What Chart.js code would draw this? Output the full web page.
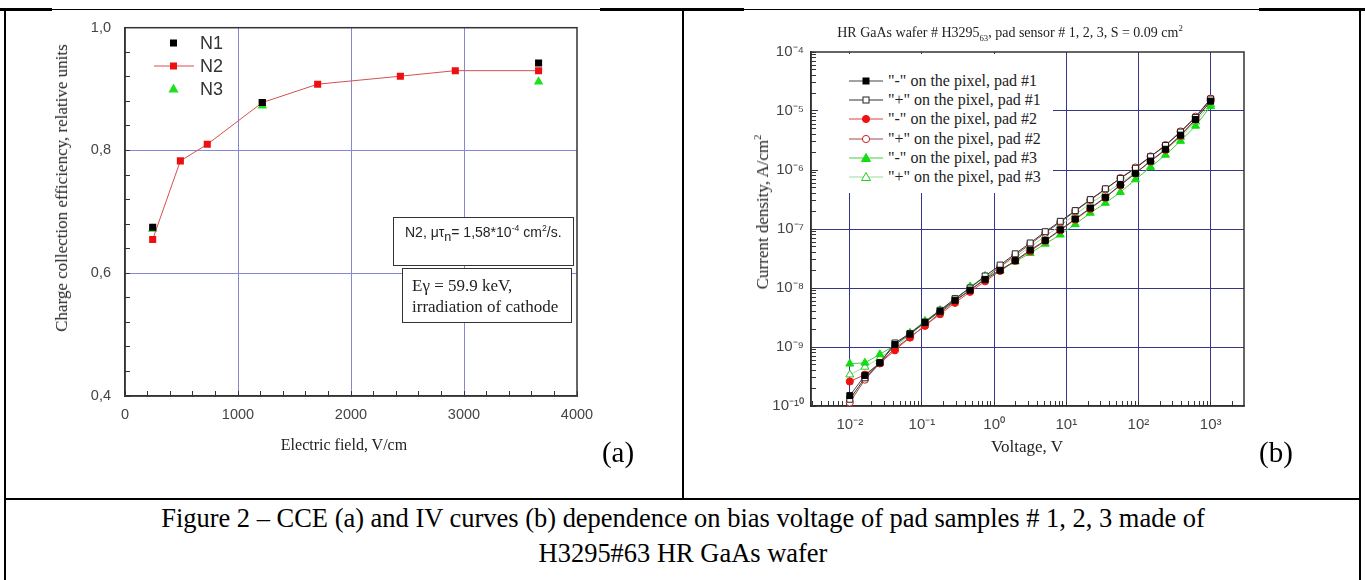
<!DOCTYPE html>
<html>
<head>
<meta charset="utf-8">
<script src="https://cdn.jsdelivr.net/npm/chart.js@4.4.1/dist/chart.umd.min.js"></script>
<style>
  body { margin: 0; background: #fff; }
  #page { position: relative; width: 1365px; height: 580px; overflow: hidden; background: #fff; }
  canvas { position: absolute; top: 0; }
  .ln { position: absolute; background: #000; }
  .txt { position: absolute; white-space: nowrap; color: #222; }
  .serif { font-family: "Liberation Serif", "Times New Roman", serif; }
  .sans { font-family: "Liberation Sans", Arial, sans-serif; }
  .center { transform: translate(-50%, -50%); }
  .caption { transform: translate(-50%, -50%) scaleX(0.98); }
  .vert { transform: translate(-50%, -50%) rotate(-90deg); }
  .box { position: absolute; background: #fff; border: 1.5px solid #333; box-sizing: border-box; }
  .leg { position: absolute; background: #fff; }
  .legrow { position: absolute; left: 0; height: 18px; }
  .legrow svg { position: absolute; left: 0; top: 0; }
  .legrow span { position: absolute; top: 50%; transform: translateY(-50%); white-space: nowrap; color: #222; }
  sup, sub { font-size: 62%; line-height: 0; }
</style>
</head>
<body>
<div id="page">
  <canvas id="cceChart" width="680" height="470" style="left:0"></canvas>
  <canvas id="ivChart" width="674" height="470" style="left:686px"></canvas>

  <!-- table lines -->
  <div class="ln" style="left:5px; top:9px; width:1355px; height:1px"></div>
  <div class="ln" style="left:0; top:8px; width:52px; height:3px"></div>
  <div class="ln" style="left:600px; top:8px; width:144px; height:3px"></div>
  <div class="ln" style="left:1259px; top:8px; width:106px; height:3px"></div>
  <div class="ln" style="left:4px; top:9px; width:2px; height:571px"></div>
  <div class="ln" style="left:1359px; top:9px; width:2px; height:571px"></div>
  <div class="ln" style="left:682px; top:9px; width:2px; height:490px"></div>
  <div class="ln" style="left:4px; top:498px; width:1357px; height:2px"></div>

  <!-- chart (a) texts -->
  <div class="txt serif vert" style="left:62px; top:188px; font-size:17px">Charge collection efficiency, relative units</div>
  <div class="txt serif center" style="left:344px; top:445px; font-size:16px">Electric field, V/cm</div>
  <div class="txt serif center" style="left:618px; top:452px; font-size:29px; color:#000">(a)</div>

  <div class="leg" id="legA" style="left:140px; top:32px; width:90px; height:68px; background:transparent"></div>

  <div class="box" style="left:393px; top:217px; width:181px; height:49px"></div>
  <div class="txt sans" style="left:405px; top:224px; font-size:14px">N2, &mu;&tau;<sub style="font-size:90%">n</sub>= 1,58*10<sup>-4</sup> cm<sup>2</sup>/s.</div>
  <div class="box" style="left:402px; top:268px; width:170px; height:55px"></div>
  <div class="txt serif" style="left:412px; top:275px; font-size:17px; line-height:21px">E&gamma; = 59.9 keV,<br>irradiation of cathode</div>

  <!-- chart (b) texts -->
  <div class="txt serif center" style="left:1010px; top:33px; font-size:14px">HR GaAs wafer # H3295<sub>63</sub>, pad sensor # 1, 2, 3, S = 0.09 cm<sup>2</sup></div>
  <div class="txt serif vert" style="left:763px; top:212px; font-size:17px">Current density, A/cm<sup>2</sup></div>
  <div class="txt serif center" style="left:1027px; top:447px; font-size:17px">Voltage, V</div>
  <div class="txt serif center" style="left:1276px; top:452px; font-size:29px; color:#000">(b)</div>

  <div class="leg" id="legB" style="left:818px; top:54px; width:235px; height:139px"></div>

  <!-- caption -->
  <div class="txt serif caption" style="left:683px; top:518px; font-size:27px; color:#000">Figure 2 &ndash; CCE (a) and IV curves (b) dependence on bias voltage of pad samples # 1, 2, 3 made of</div>
  <div class="txt serif caption" style="left:683px; top:553px; font-size:27px; color:#000">H3295#63 HR GaAs wafer</div>
</div>

<script>
// ---- chart (a): CCE vs electric field ----
const n1Field = [245, 1215, 3660];
const n1Cce = [0.675, 0.878, 0.9425];
const n2Field = [245, 490, 728, 1215, 1705, 2437, 2923, 3660];
const n2Cce = [0.655, 0.783, 0.81, 0.878, 0.908, 0.921, 0.93, 0.93];
const n3Field = [245, 1215, 3660];
const n3Cce = [0.672, 0.873, 0.912];

// ---- chart (b): IV curves ----
const voltage = [0.01, 0.0162, 0.0261, 0.0422, 0.0681, 0.11, 0.178, 0.287, 0.464, 0.75, 1.21, 1.96, 3.16,
  5.11, 8.25, 13.3, 21.5, 34.8, 56.2, 90.9, 147, 237, 383, 619, 1000];
const pad1Minus = [1.5e-10, 3.3e-10, 5.4e-10, 1.1e-9, 1.65e-9, 2.6e-9, 4.0e-9, 6.2e-9, 9.2e-9, 1.4e-8, 2.0e-8, 2.9e-8, 4.4e-8,
  6.4e-8, 9.7e-8, 1.48e-7, 2.27e-7, 3.45e-7, 5.6e-7, 8.8e-7, 1.42e-6, 2.25e-6, 3.9e-6, 7.2e-6, 1.47e-5];
const pad1Plus = [1.3e-10, 3.0e-10, 5.4e-10, 1.17e-9, 1.7e-9, 2.65e-9, 4.2e-9, 6.6e-9, 1.0e-8, 1.6e-8, 2.45e-8, 3.8e-8, 5.8e-8,
  9.0e-8, 1.35e-7, 2.05e-7, 3.15e-7, 4.8e-7, 7.2e-7, 1.07e-6, 1.68e-6, 2.6e-6, 4.4e-6, 7.8e-6, 1.6e-5];
const pad2Minus = [2.6e-10, 3.4e-10, 5.3e-10, 8.8e-10, 1.45e-9, 2.3e-9, 3.6e-9, 5.6e-9, 8.6e-9, 1.3e-8, 1.95e-8, 2.9e-8, 4.2e-8,
  6.3e-8, 9.5e-8, 1.45e-7, 2.2e-7, 3.4e-7, 5.5e-7, 8.8e-7, 1.4e-6, 2.2e-6, 3.8e-6, 7.2e-6, 1.5e-5];
const pad2Plus = [1.15e-10, 2.8e-10, 5.3e-10, 9.5e-10, 1.45e-9, 2.3e-9, 3.8e-9, 6.0e-9, 9.2e-9, 1.45e-8, 2.3e-8, 3.6e-8, 5.5e-8,
  8.6e-8, 1.3e-7, 2.0e-7, 3.1e-7, 4.7e-7, 7.3e-7, 1.1e-6, 1.7e-6, 2.65e-6, 4.5e-6, 8.0e-6, 1.62e-5];
const pad3Minus = [5.2e-10, 5.4e-10, 7.5e-10, 1.07e-9, 1.73e-9, 2.76e-9, 4.2e-9, 6.3e-9, 1.05e-8, 1.5e-8, 1.97e-8, 2.8e-8, 3.9e-8,
  5.6e-8, 8.0e-8, 1.2e-7, 1.87e-7, 2.76e-7, 4.2e-7, 6.9e-7, 1.12e-6, 1.8e-6, 3.1e-6, 5.6e-6, 1.2e-5];
const pad3Plus = [3.4e-10, 4.6e-10, 6.5e-10, 1.0e-9, 1.6e-9, 2.6e-9, 4.1e-9, 6.4e-9, 1.05e-8, 1.6e-8, 2.3e-8, 3.3e-8, 5.0e-8,
  7.5e-8, 1.15e-7, 1.75e-7, 2.7e-7, 4.0e-7, 6.0e-7, 9.0e-7, 1.4e-6, 2.2e-6, 3.6e-6, 6.6e-6, 1.3e-5];

const xDecades = [0.001, 0.01, 0.1, 1, 10, 100, 1000];
const yDecades = [1e-10, 1e-9, 1e-8, 1e-7, 1e-6, 1e-5, 1e-4];
const SUP = { '-': '\u207b', '0': '\u2070', '1': '\u00b9', '2': '\u00b2', '3': '\u00b3', '4': '\u2074',
  '5': '\u2075', '6': '\u2076', '7': '\u2077', '8': '\u2078', '9': '\u2079' };

function pairs(xs, ys) {
  return xs.map((x, i) => ({ x, y: ys[i] }));
}

function isDecade(v) {
  const l = Math.log10(v);
  return Math.abs(l - Math.round(l)) < 1e-6;
}

function powLabel(v) {
  const e = String(Math.round(Math.log10(v)));
  return '10' + e.split('').map(c => SUP[c]).join('');
}

function logTicks(decades, min, max) {
  const out = [];
  decades.forEach(d => {
    for (let m = 1; m <= 9; m++) {
      const v = +(d * m).toPrecision(6);
      if (v >= min * 0.999 && v <= max * 1.001) out.push({ value: v });
    }
  });
  return out;
}

// frame around the plot area
const framePlugin = {
  id: 'frame',
  beforeDatasetsDraw(chart) {
    const a = chart.chartArea;
    const c = chart.ctx;
    c.save();
    c.strokeStyle = '#333';
    c.lineWidth = 1.5;
    c.strokeRect(a.left, a.top, a.right - a.left, a.bottom - a.top);
    c.restore();
  }
};

const tickFont = { family: '"Liberation Sans", Arial, sans-serif', size: 14.5 };

new Chart(document.getElementById('cceChart').getContext('2d'), {
  type: 'scatter',
  data: {
    datasets: [
      { label: 'N1', data: pairs(n1Field, n1Cce), pointStyle: 'rect', pointRadius: 5,
        backgroundColor: '#000', borderColor: '#000', pointBorderWidth: 0 },
      { label: 'N2', data: pairs(n2Field, n2Cce), showLine: true, pointStyle: 'rect', pointRadius: 5,
        backgroundColor: '#ee1010', borderColor: '#d45050', borderWidth: 1, pointBorderWidth: 0 },
      { label: 'N3', data: pairs(n3Field, n3Cce), pointStyle: 'triangle', pointRadius: 5.5,
        backgroundColor: '#1ee01e', borderColor: '#1ee01e', pointBorderWidth: 0 }
    ]
  },
  options: {
    responsive: false,
    animation: false,
    layout: { padding: { left: 0, top: 27, right: 103, bottom: 0 } },
    plugins: { legend: { display: false }, tooltip: { enabled: false } },
    scales: {
      x: {
        type: 'linear', min: 0, max: 4000,
        afterFit: s => { s.height = 74; },
        border: { color: '#333', width: 1.5 },
        grid: {
          color: c => (c.tick && c.tick.value % 1000 === 0 && c.tick.value > 0 && c.tick.value < 4000) ? '#8686d6' : 'rgba(0,0,0,0)',
          tickColor: '#333', tickLength: -5, lineWidth: 1
        },
        ticks: {
          stepSize: 200, autoSkip: false, maxRotation: 0, padding: 15, color: '#444', font: tickFont,
          callback: v => (v % 1000 === 0 ? String(v) : '')
        }
      },
      y: {
        type: 'linear', min: 0.4, max: 1.0,
        afterFit: s => { s.width = 125; },
        border: { color: '#333', width: 1.5 },
        grid: {
          color: c => {
            if (!c.tick) return 'rgba(0,0,0,0)';
            const v = c.tick.value;
            const major = Math.abs(v * 5 - Math.round(v * 5)) < 1e-6;
            return (major && v > 0.41 && v < 0.99) ? '#8686d6' : 'rgba(0,0,0,0)';
          },
          tickColor: '#333', tickLength: -5, lineWidth: 1
        },
        ticks: {
          stepSize: 0.04, autoSkip: false, padding: 19, color: '#444', font: tickFont,
          callback: v => (Math.abs(v * 5 - Math.round(v * 5)) < 1e-6 ? v.toFixed(1).replace('.', ',') : '')
        }
      }
    }
  },
  plugins: [framePlugin]
});

const ivStyles = [
  { label: '"-" on the pixel, pad #1', data: pad1Minus, pointStyle: 'rect', radius: 4.2, fill: '#000', stroke: '#000', line: '#444' },
  { label: '"+" on the pixel, pad #1', data: pad1Plus, pointStyle: 'rect', radius: 4.2, fill: '#fff', stroke: '#222', line: '#333' },
  { label: '"-" on the pixel, pad #2', data: pad2Minus, pointStyle: 'circle', radius: 3.6, fill: '#ee1111', stroke: '#ee1111', line: '#e04040' },
  { label: '"+" on the pixel, pad #2', data: pad2Plus, pointStyle: 'circle', radius: 3.6, fill: '#fff', stroke: '#cc2020', line: '#a04848' },
  { label: '"-" on the pixel, pad #3', data: pad3Minus, pointStyle: 'triangle', radius: 4.6, fill: '#11dd11', stroke: '#11dd11', line: '#44cc44' },
  { label: '"+" on the pixel, pad #3', data: pad3Plus, pointStyle: 'triangle', radius: 4.6, fill: '#fff', stroke: '#22cc22', line: '#99dd99' }
];

const ivFont = { family: '"Liberation Sans", Arial, sans-serif', size: 15 };

new Chart(document.getElementById('ivChart').getContext('2d'), {
  type: 'scatter',
  data: {
    datasets: ivStyles.map(s => ({
      label: s.label, data: pairs(voltage, s.data), showLine: true,
      borderColor: s.line, borderWidth: 1,
      pointStyle: s.pointStyle, pointRadius: s.radius,
      pointBackgroundColor: s.fill, pointBorderColor: s.stroke, pointBorderWidth: 1
    }))
  },
  options: {
    responsive: false,
    animation: false,
    layout: { padding: { left: 0, top: 52, right: 116, bottom: 0 } },
    plugins: { legend: { display: false }, tooltip: { enabled: false } },
    scales: {
      x: {
        type: 'logarithmic', min: 0.0029, max: 2900,
        afterFit: s => { s.height = 64; },
        afterBuildTicks: s => { s.ticks = logTicks(xDecades, 0.0029, 2900); },
        border: { color: '#222', width: 1.5 },
        grid: {
          color: c => (c.tick && isDecade(c.tick.value)) ? '#35358a' : 'rgba(0,0,0,0)',
          tickColor: '#333', tickLength: -5, lineWidth: 1
        },
        ticks: {
          autoSkip: false, maxRotation: 0, padding: 15, color: '#444', font: ivFont,
          callback: v => (isDecade(v) ? powLabel(v) : '')
        }
      },
      y: {
        type: 'logarithmic', min: 1e-10, max: 1e-4,
        afterFit: s => { s.width = 125; },
        afterBuildTicks: s => { s.ticks = logTicks(yDecades, 1e-10, 1e-4); },
        border: { color: '#222', width: 1.5 },
        grid: {
          color: c => (c.tick && isDecade(c.tick.value) && c.tick.value > 2e-10 && c.tick.value < 5e-5) ? '#35358a' : 'rgba(0,0,0,0)',
          tickColor: '#333', tickLength: -5, lineWidth: 1
        },
        ticks: {
          autoSkip: false, padding: 12, color: '#444', font: ivFont,
          callback: v => (isDecade(v) ? powLabel(v) : '')
        }
      }
    }
  },
  plugins: [framePlugin]
});

// ---- legends (small svg samples + text) ----
function markerSvg(style, fill, stroke, cx, cy) {
  if (style === 'rect') return `<rect x="${cx - 3}" y="${cy - 3}" width="6" height="6" fill="${fill}" stroke="${stroke}" stroke-width="1"/>`;
  if (style === 'circle') return `<circle cx="${cx}" cy="${cy}" r="3.6" fill="${fill}" stroke="${stroke}" stroke-width="1"/>`;
  return `<polygon points="${cx},${cy - 4.5} ${cx + 4.5},${cy + 3.5} ${cx - 4.5},${cy + 3.5}" fill="${fill}" stroke="${stroke}" stroke-width="1"/>`;
}

const legB = document.getElementById('legB');
ivStyles.forEach((s, i) => {
  const row = document.createElement('div');
  row.className = 'legrow';
  row.style.top = (27 + i * 19.2 - 9) + 'px';
  row.style.width = '235px';
  row.innerHTML = `<svg width="70" height="18">
      <line x1="31" y1="9" x2="65" y2="9" stroke="${s.line}" stroke-width="1"/>
      ${markerSvg(s.pointStyle, s.fill, s.stroke, 48, 9)}
    </svg>
    <span class="serif" style="left:70px; font-size:16px">${s.label}</span>`;
  legB.appendChild(row);
});

const legA = document.getElementById('legA');
const legAItems = [
  { label: 'N1', style: 'rect', fill: '#000', line: null },
  { label: 'N2', style: 'rect', fill: '#ee1010', line: '#d45050' },
  { label: 'N3', style: 'triangle', fill: '#1ee01e', line: null }
];
legAItems.forEach((s, i) => {
  const row = document.createElement('div');
  row.className = 'legrow';
  row.style.top = (10.7 + i * 23.3 - 9) + 'px';
  row.style.width = '90px';
  const line = s.line ? `<line x1="14" y1="9" x2="54" y2="9" stroke="${s.line}" stroke-width="1"/>` : '';
  const mk = s.style === 'rect'
    ? `<rect x="30" y="5.5" width="7" height="7" fill="${s.fill}"/>`
    : `<polygon points="33.5,3.5 38.5,12.5 28.5,12.5" fill="${s.fill}"/>`;
  row.innerHTML = `<svg width="60" height="18">${line}${mk}</svg>
    <span class="sans" style="left:60px; font-size:18px; color:#333">${s.label}</span>`;
  legA.appendChild(row);
});
</script>
</body>
</html>
